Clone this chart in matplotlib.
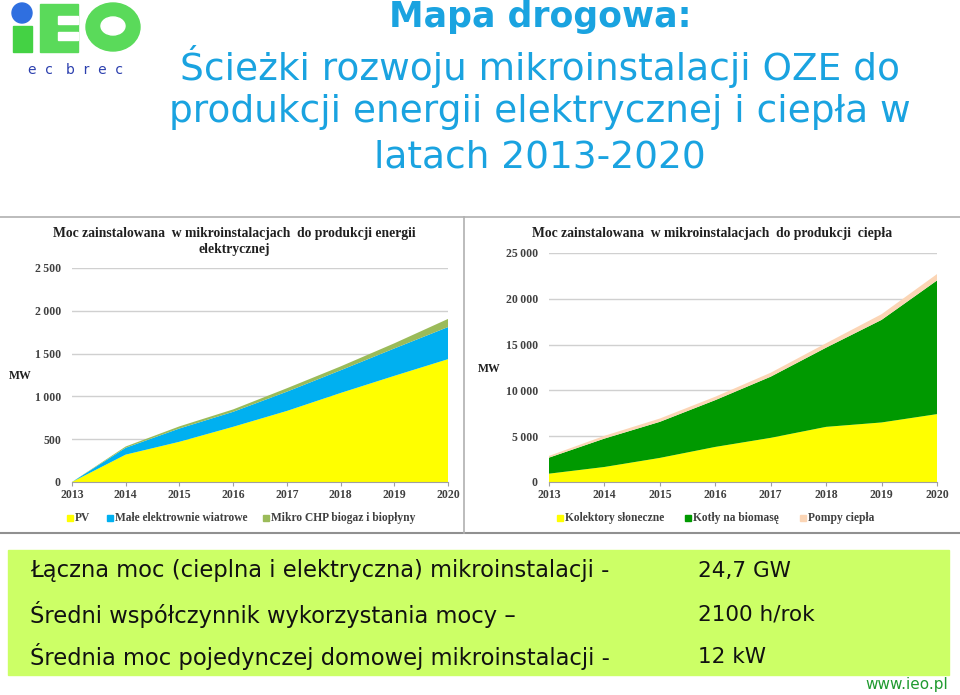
import matplotlib.pyplot as plt
from matplotlib.patches import Rectangle, Circle, Ellipse
from matplotlib.ticker import FuncFormatter

W, H = 960, 695

years = [2013, 2014, 2015, 2016, 2017, 2018, 2019, 2020]

# moc elektryczna, MW
pv = [0, 320, 470, 645, 830, 1040, 1240, 1435]
wiatr = [0, 80, 155, 175, 225, 265, 320, 375]
chp = [0, 15, 25, 28, 40, 45, 60, 95]

# moc cieplna, MW
kolektory = [910, 1640, 2630, 3830, 4820, 6020, 6500, 7410]
kotly = [1750, 3100, 3940, 5110, 6680, 8650, 11200, 14590]
pompy = [190, 300, 360, 370, 430, 480, 620, 700]

info_labels = ["Łączna moc (cieplna i elektryczna) mikroinstalacji -",
               "Średni współczynnik wykorzystania mocy –",
               "Średnia moc pojedynczej domowej mikroinstalacji -"]
info_values = ["24,7 GW", "2100 h/rok", "12 kW"]


def box(x0, y0, x1, y1):
    return [x0 / W, 1 - y1 / H, (x1 - x0) / W, (y1 - y0) / H]


def fmt(v, pos):
    return f"{int(v):,}".replace(",", "\u2009") if v >= 1000 else f"{int(v)}"


fig = plt.figure(figsize=(W / 100, H / 100), dpi=100)

# tło w pikselach
bg = fig.add_axes([0, 0, 1, 1])
bg.set_xlim(0, W)
bg.set_ylim(H, 0)
bg.axis("off")

# logo
bg.add_patch(Rectangle((13, 26), 19, 26, color="#44d244"))
bg.add_patch(Circle((22, 13), 10, color="#2f6fe0"))
bg.add_patch(Rectangle((40, 4), 38, 48, color="#5ada5a"))
bg.add_patch(Rectangle((58, 16), 20, 8, color="white"))
bg.add_patch(Rectangle((58, 32), 20, 8, color="white"))
bg.add_patch(Ellipse((113, 27), 54, 48, color="#5ada5a"))
bg.add_patch(Ellipse((113, 26), 24, 18, color="white"))
bg.text(75, 70, "e  c   b  r  e  c", ha="center", va="center",
        fontsize=10, color="#2b3fae")

# tytuł
blue = "#1aa3e0"
bg.text(540, 17, "Mapa drogowa:", ha="center", va="center", fontsize=25,
        fontweight="bold", color=blue)
for i, line in enumerate(["Ścieżki rozwoju mikroinstalacji OZE do",
                          "produkcji energii elektrycznej i ciepła w",
                          "latach 2013-2020"]):
    bg.text(540, 66 + i * 46, line, ha="center", va="center",
            fontsize=27, color=blue)

# ramki wykresów
bg.plot([0, W], [217, 217], color="#b0b0b0", lw=1.2)
bg.plot([0, W], [533, 533], color="#909090", lw=1.5)
bg.plot([464, 464], [217, 533], color="#b0b0b0", lw=1.2)

# zielona ramka z tekstem
bg.add_patch(Rectangle((8, 550), 941, 125, color="#ccff66"))
for i, (lab, val) in enumerate(zip(info_labels, info_values)):
    y = 571 + i * 43
    bg.text(30, y, lab, ha="left", va="center", fontsize=16.3, color="#111111")
    bg.text(698, y, val, ha="left", va="center", fontsize=15.5, color="#111111")
bg.text(948, 685, "www.ieo.pl", ha="right", va="center", fontsize=11,
        color="#1f9a2f")

serif = "Liberation Serif"
tick_kw = dict(fontsize=8.5, fontweight="bold", color="#404040", family=serif)

# wykres elektryczny
ax1 = fig.add_axes(box(72, 268, 448, 482))
ax1.stackplot(years, pv, wiatr, chp,
              colors=["#ffff00", "#00b0f0", "#9bbb59"], lw=0)
ax1.set_xlim(2013, 2020)
ax1.set_ylim(0, 2500)
ax1.set_yticks(range(0, 2501, 500))
ax1.yaxis.set_major_formatter(FuncFormatter(fmt))
bg.text(234, 241, "Moc zainstalowana  w mikroinstalacjach  do produkcji energii\nelektrycznej",
        ha="center", va="center", fontsize=9.8, fontweight="bold",
        family=serif, color="#202020", linespacing=1.3)
bg.text(20, 376, "MW", ha="center", va="center", fontsize=8.5,
        fontweight="bold", family=serif, color="#202020")
leg1 = [("PV", "#ffff00", 70), ("Małe elektrownie wiatrowe", "#00b0f0", 110),
        ("Mikro CHP biogaz i biopłyny", "#9bbb59", 266)]
for name, c, x in leg1:
    bg.add_patch(Rectangle((x - 3, 515), 6, 6, color=c))
    bg.text(x + 5, 518, name, ha="left", va="center", fontsize=8.3,
            fontweight="bold", family=serif, color="#404040")

# wykres cieplny
ax2 = fig.add_axes(box(549, 253, 937, 482))
ax2.stackplot(years, kolektory, kotly, pompy,
              colors=["#ffff00", "#009900", "#fbd5b5"], lw=0)
ax2.set_xlim(2013, 2020)
ax2.set_ylim(0, 25000)
ax2.set_yticks(range(0, 25001, 5000))
ax2.yaxis.set_major_formatter(FuncFormatter(fmt))
bg.text(712, 234, "Moc zainstalowana  w mikroinstalacjach  do produkcji  ciepła",
        ha="center", va="center", fontsize=9.8, fontweight="bold",
        family=serif, color="#202020")
bg.text(489, 369, "MW", ha="center", va="center", fontsize=8.5,
        fontweight="bold", family=serif, color="#202020")
leg2 = [("Kolektory słoneczne", "#ffff00", 560), ("Kotły na biomasę", "#009900", 688),
        ("Pompy ciepła", "#fbd5b5", 803)]
for name, c, x in leg2:
    bg.add_patch(Rectangle((x - 3, 515), 6, 6, color=c))
    bg.text(x + 5, 518, name, ha="left", va="center", fontsize=8.3,
            fontweight="bold", family=serif, color="#404040")

for ax in (ax1, ax2):
    ax.set_xticks(years)
    ax.grid(axis="y", color="#d0d0d0", lw=1)
    ax.set_axisbelow(True)
    for s in ("top", "right", "left"):
        ax.spines[s].set_visible(False)
    ax.spines["bottom"].set_color("#a0a0a0")
    ax.tick_params(axis="y", length=0, pad=8)
    ax.tick_params(axis="x", length=3, color="#a0a0a0", pad=2)
    for t in ax.get_xticklabels() + ax.get_yticklabels():
        t.set(**tick_kw)

fig.savefig("out.png", dpi=100)
